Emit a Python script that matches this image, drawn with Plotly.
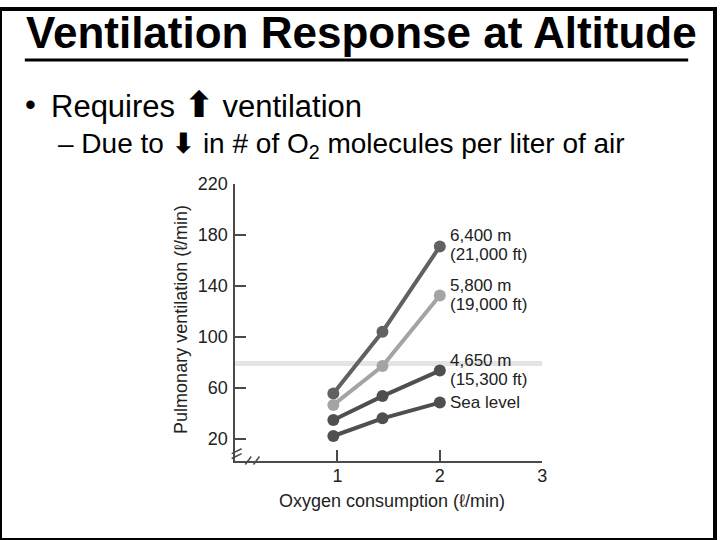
import plotly.graph_objects as go

# values
oxygen_uptake = [0.96, 1.44, 2.0]
series_names = ["Sea level", "4,650 m", "6,400 m", "5,800 m"]
series_feet = ["", "(15,300 ft)", "(21,000 ft)", "(19,000 ft)"]
ventilation = {
    "Sea level": [22.3, 36.2, 48.5],
    "4,650 m": [34.8, 53.6, 73.6],
    "6,400 m": [55.6, 104.1, 171.0],
    "5,800 m": [46.7, 77.2, 132.5],
}
x_ticks = [1, 2, 3]
y_ticks = [20, 60, 100, 140, 180, 220]
band_level = 79.2

W, H = 720, 540
FONT = "Liberation Sans, Arial, sans-serif"
INK = "#222222"
AXIS = "#4a4a4a"
line_colors = {
    "Sea level": "#4f4f4f",
    "4,650 m": "#4f4f4f",
    "6,400 m": "#616161",
    "5,800 m": "#a4a4a4",
}


def px(x, y):
    """pixel position -> paper coords"""
    return x / W, 1 - y / H


fig = go.Figure()

for name in series_names:
    fig.add_trace(
        go.Scatter(
            x=oxygen_uptake,
            y=ventilation[name],
            mode="lines+markers",
            line=dict(color=line_colors[name], width=4),
            marker=dict(size=12, color=line_colors[name]),
            hoverinfo="skip",
        )
    )

# end-of-line labels
for name, feet in zip(series_names, series_feet):
    last = ventilation[name][-1]
    lines = [name, feet] if feet else [name]
    shifts = [10.5, -8.5] if feet else [0]
    for txt, ys in zip(lines, shifts):
        fig.add_annotation(
            x=oxygen_uptake[-1], y=last, xref="x", yref="y",
            text=txt, showarrow=False, xanchor="left", yanchor="middle",
            xshift=8, yshift=ys,
            font=dict(family=FONT, size=17, color=INK),
        )

shapes = []
# light grey band behind the lines
shapes.append(dict(
    type="rect", xref="x", yref="y", x0=0, x1=3,
    y0=band_level - 1.9, y1=band_level + 1.9,
    fillcolor="#e4e4e4", line=dict(width=0), layer="below",
))

# axis break marks
gx0, gy0 = px(238.3, 450.5)
gx1, gy1 = px(238.3, 453.5)
shapes.append(dict(type="line", xref="paper", yref="paper", x0=gx0, y0=gy0, x1=gx1, y1=gy1,
                   line=dict(color="white", width=3)))
for yy in (449.5, 454.5):
    a = px(233.3, yy + 2.5)
    b = px(243.3, yy - 2.5)
    shapes.append(dict(type="line", xref="paper", yref="paper", x0=a[0], y0=a[1], x1=b[0], y1=b[1],
                       line=dict(color=AXIS, width=1.5)))
for xx in (250, 258.3):
    a = px(xx - 3, 463)
    b = px(xx + 3, 455)
    shapes.append(dict(type="line", xref="paper", yref="paper", x0=a[0], y0=a[1], x1=b[0], y1=b[1],
                       line=dict(color=AXIS, width=1.5)))

# title underline and slide frame
u0 = px(25, 51)
u1 = px(693, 51)
shapes.append(dict(type="line", xref="paper", yref="paper", x0=u0[0], y0=u0[1], x1=u1[0], y1=u1[1],
                   line=dict(color="black", width=3)))
shapes.append(dict(type="rect", xref="paper", yref="paper", x0=0, y0=0, x1=1, y1=1 + 1 / H,
                   line=dict(color="black", width=4), fillcolor="rgba(0,0,0,0)"))

# slide text
fig.add_annotation(
    x=24 / W, y=1 - 22.5 / H, xref="paper", yref="paper", xanchor="left", yanchor="middle",
    text="<b>Ventilation Response at Altitude</b>", showarrow=False,
    font=dict(family=FONT, size=44, color="black"),
)
fig.add_annotation(
    x=23 / W, y=1 - 96.5 / H, xref="paper", yref="paper", xanchor="left", yanchor="middle",
    text="•", showarrow=False, font=dict(family=FONT, size=31, color="black"),
)
fig.add_annotation(
    x=49 / W, y=1 - 96.5 / H, xref="paper", yref="paper", xanchor="left", yanchor="middle",
    text="Requires <span style='font-family:DejaVu Sans;font-size:36px;font-weight:bold'>⬆</span> ventilation",
    showarrow=False, font=dict(family=FONT, size=31, color="black"),
)
fig.add_annotation(
    x=56 / W, y=1 - 137.5 / H, xref="paper", yref="paper", xanchor="left", yanchor="middle",
    text="– Due to <span style='font-family:DejaVu Sans;font-size:28px;font-weight:bold'>⬇</span> in # of O<sub>2</sub> molecules per liter of air",
    showarrow=False, font=dict(family=FONT, size=28, color="black"),
)

# axis titles
fig.add_annotation(
    x=395 / W, y=1 - 500 / H, xref="paper", yref="paper", xanchor="center", yanchor="middle",
    text="Oxygen consumption (ℓ/min)", showarrow=False,
    font=dict(family=FONT, size=18, color=INK),
)
fig.add_annotation(
    x=182 / W, y=1 - 315 / H, xref="paper", yref="paper", xanchor="center", yanchor="middle",
    text="Pulmonary ventilation (ℓ/min)", showarrow=False, textangle=-90,
    font=dict(family=FONT, size=18, color=INK),
)

axis_common = dict(
    showline=True, linecolor=AXIS, linewidth=1.5,
    ticks="inside", ticklen=11, tickwidth=1.5, tickcolor=AXIS,
    showgrid=False, zeroline=False,
    tickfont=dict(family=FONT, size=18, color=INK),
    fixedrange=True,
)

fig.update_layout(
    width=W, height=H, autosize=False,
    margin=dict(l=0, r=0, t=0, b=0),
    paper_bgcolor="white", plot_bgcolor="white",
    showlegend=False,
    shapes=shapes,
    xaxis=dict(domain=[236.7 / W, 546 / W], range=[0, 3], tickvals=x_ticks,
               ticklabelstandoff=-2, **axis_common),
    yaxis=dict(domain=[80.9 / H, 362.7 / H], range=[3, 220], tickvals=y_ticks,
               ticklabelstandoff=2, **axis_common),
)

# drop the browser's default page margin so the slide fills the window
fig.write_html(
    "out.html",
    config={"displayModeBar": False},
    post_script="document.body.style.margin='0';document.body.style.overflow='hidden';",
)
